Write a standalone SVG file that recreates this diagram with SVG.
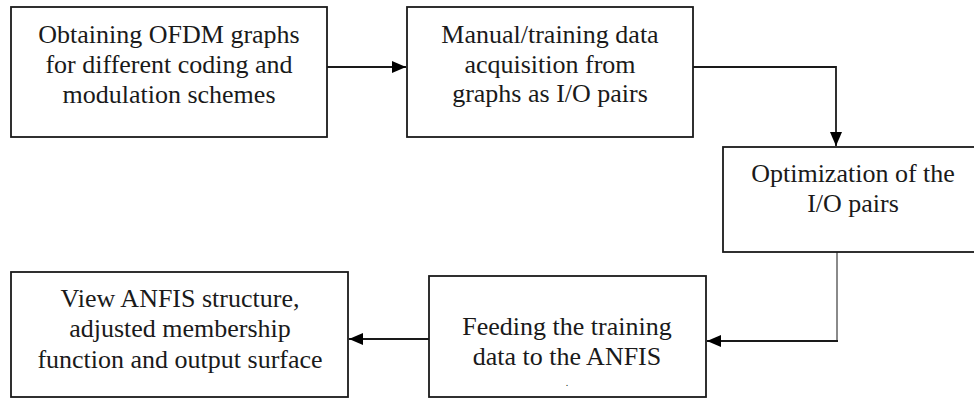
<svg xmlns="http://www.w3.org/2000/svg" width="974" height="398" viewBox="0 0 974 398">
  <style>
    .box { fill: #ffffff; stroke: #1a1a1a; stroke-width: 1.8; }
    .label { font-family: "Liberation Serif", "Times New Roman", serif; font-size: 26px; fill: #1a1a1a; text-anchor: middle; }
    .wire { fill: none; stroke: #1a1a1a; stroke-width: 1.8; }
    .wire-grey { fill: none; stroke: #8a8a8a; stroke-width: 2; }
  </style>
  <defs>
    <marker id="arrow" viewBox="0 0 14 12" refX="14" refY="6" markerWidth="14" markerHeight="12" markerUnits="userSpaceOnUse" orient="auto">
      <path d="M0,0 L14,6 L0,12 Z" fill="#000000"/>
    </marker>
  </defs>
  <rect width="974" height="398" fill="#ffffff"/>

  <g id="connectors">
    <path class="wire" d="M327,67 L406,67" marker-end="url(#arrow)"/>
    <path class="wire" d="M693,67 L836,67 L836,146" marker-end="url(#arrow)"/>
    <path class="wire-grey" d="M837,252 L837,341"/>
    <path class="wire" d="M838,341 L707,341" marker-end="url(#arrow)"/>
    <path class="wire" d="M429,339 L349,339" marker-end="url(#arrow)"/>
  </g>

  <g id="obtaining-graphs">
    <rect class="box" x="11" y="7" width="316" height="130"/>
    <text class="label" x="169" y="43">Obtaining OFDM graphs</text>
    <text class="label" x="169" y="73">for different coding and</text>
    <text class="label" x="169" y="103">modulation schemes</text>
  </g>

  <g id="data-acquisition">
    <rect class="box" x="407" y="7" width="286" height="130"/>
    <text class="label" x="550" y="43">Manual/training data</text>
    <text class="label" x="550" y="73">acquisition from</text>
    <text class="label" x="550" y="102">graphs as I/O pairs</text>
  </g>

  <g id="optimization">
    <rect class="box" x="723" y="147" width="260" height="105"/>
    <text class="label" x="853" y="182">Optimization of the</text>
    <text class="label" x="853" y="212">I/O pairs</text>
  </g>

  <g id="feeding-anfis">
    <rect class="box" x="429" y="276" width="277" height="121"/>
    <text class="label" x="567" y="335">Feeding the training</text>
    <text class="label" x="567" y="365">data to the ANFIS</text>
    <text class="label" x="567" y="386" style="font-size:10px">.</text>
  </g>

  <g id="view-anfis">
    <rect class="box" x="11" y="272" width="337" height="125"/>
    <text class="label" x="180" y="307">View ANFIS structure,</text>
    <text class="label" x="180" y="337">adjusted membership</text>
    <text class="label" x="180" y="368">function and output surface</text>
  </g>
</svg>
